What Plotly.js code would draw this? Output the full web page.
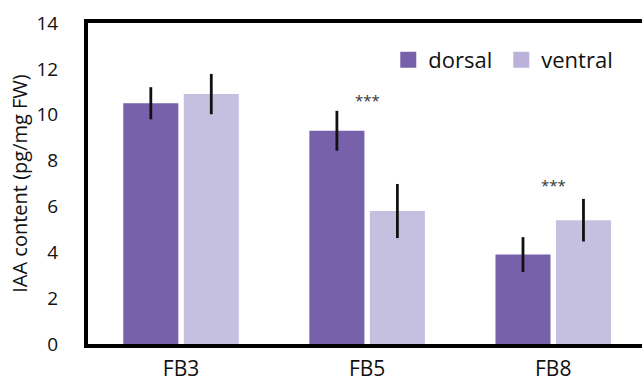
<!DOCTYPE html>
<html><head><meta charset="utf-8">
<script src="https://cdn.plot.ly/plotly-3.0.1.min.js"></script>
<style>html,body{margin:0;padding:0;background:#fff}#chart{width:642px;height:383px}</style>
</head><body><div id="chart"></div>
<script>
const categories = ['FB3', 'FB5', 'FB8'];
const dorsal = [10.5, 9.3, 3.9];
const dorsalErr = [0.7, 0.87, 0.76];
const ventral = [10.9, 5.8, 5.4];
const ventralErr = [0.88, 1.18, 0.93];
const seriesNames = ['dorsal', 'ventral'];
const sigLabels = ['', '***', '***'];
const sigY = [null, 10.65, 6.95];

const cDorsal = '#7761aa';
const cVentral = '#c5c0e0';
const font = 'Open Sans, Lato, sans-serif';

const traces = [
  {type: 'bar', x: categories, y: dorsal, name: seriesNames[0], showlegend: false,
   marker: {color: cDorsal},
   error_y: {type: 'data', array: dorsalErr, visible: true, color: '#111', thickness: 2.8, width: 0}},
  {type: 'bar', x: categories, y: ventral, name: seriesNames[1], showlegend: false,
   marker: {color: cVentral},
   error_y: {type: 'data', array: ventralErr, visible: true, color: '#111', thickness: 2.8, width: 0}},
  {type: 'scatter', mode: 'markers', x: [null], y: [null], name: seriesNames[0],
   marker: {symbol: 'square', size: 19, color: cDorsal}},
  {type: 'scatter', mode: 'markers', x: [null], y: [null], name: seriesNames[1],
   marker: {symbol: 'square', size: 19, color: '#bab2d9'}}
];

const annotations = [];
categories.forEach((c, i) => {
  if (sigLabels[i]) annotations.push({x: c, y: sigY[i], xref: 'x', yref: 'y', text: sigLabels[i],
    showarrow: false, font: {family: font, size: 15, color: '#333'}});
});

const layout = {
  width: 642, height: 383,
  margin: {l: 88, r: 0, t: 23, b: 39},
  paper_bgcolor: '#fff', plot_bgcolor: '#fff',
  font: {family: font, color: '#222'},
  barmode: 'group', bargap: 0.35, bargroupgap: 0.09,
  showlegend: true,
  legend: {orientation: 'h', x: 0.542, y: 0.885, xanchor: 'left', yanchor: 'middle',
           font: {family: font, size: 22, color: '#111'}, bgcolor: 'rgba(0,0,0,0)', itemwidth: 30,
           entrywidth: 68},
  xaxis: {type: 'category', range: [-0.5, 2.477], showline: true, linecolor: '#000', linewidth: 4,
          mirror: true, ticks: 'outside', ticklen: 3, tickcolor: 'rgba(0,0,0,0)', showgrid: false,
          zeroline: false, tickfont: {family: font, size: 21, color: '#111'}},
  yaxis: {range: [0, 14], dtick: 2, showline: true, linecolor: '#000', linewidth: 4, mirror: false,
          ticks: 'outside', ticklen: 22, tickcolor: 'rgba(0,0,0,0)', showgrid: false, zeroline: false,
          tickfont: {family: font, size: 19, color: '#111'},
          title: {text: 'IAA content (pg/mg FW)', font: {family: font, size: 20, color: '#111'}, standoff: 4}},
  annotations: annotations
};

Plotly.newPlot('chart', traces, layout, {displayModeBar: false, staticPlot: true});
</script></body></html>
